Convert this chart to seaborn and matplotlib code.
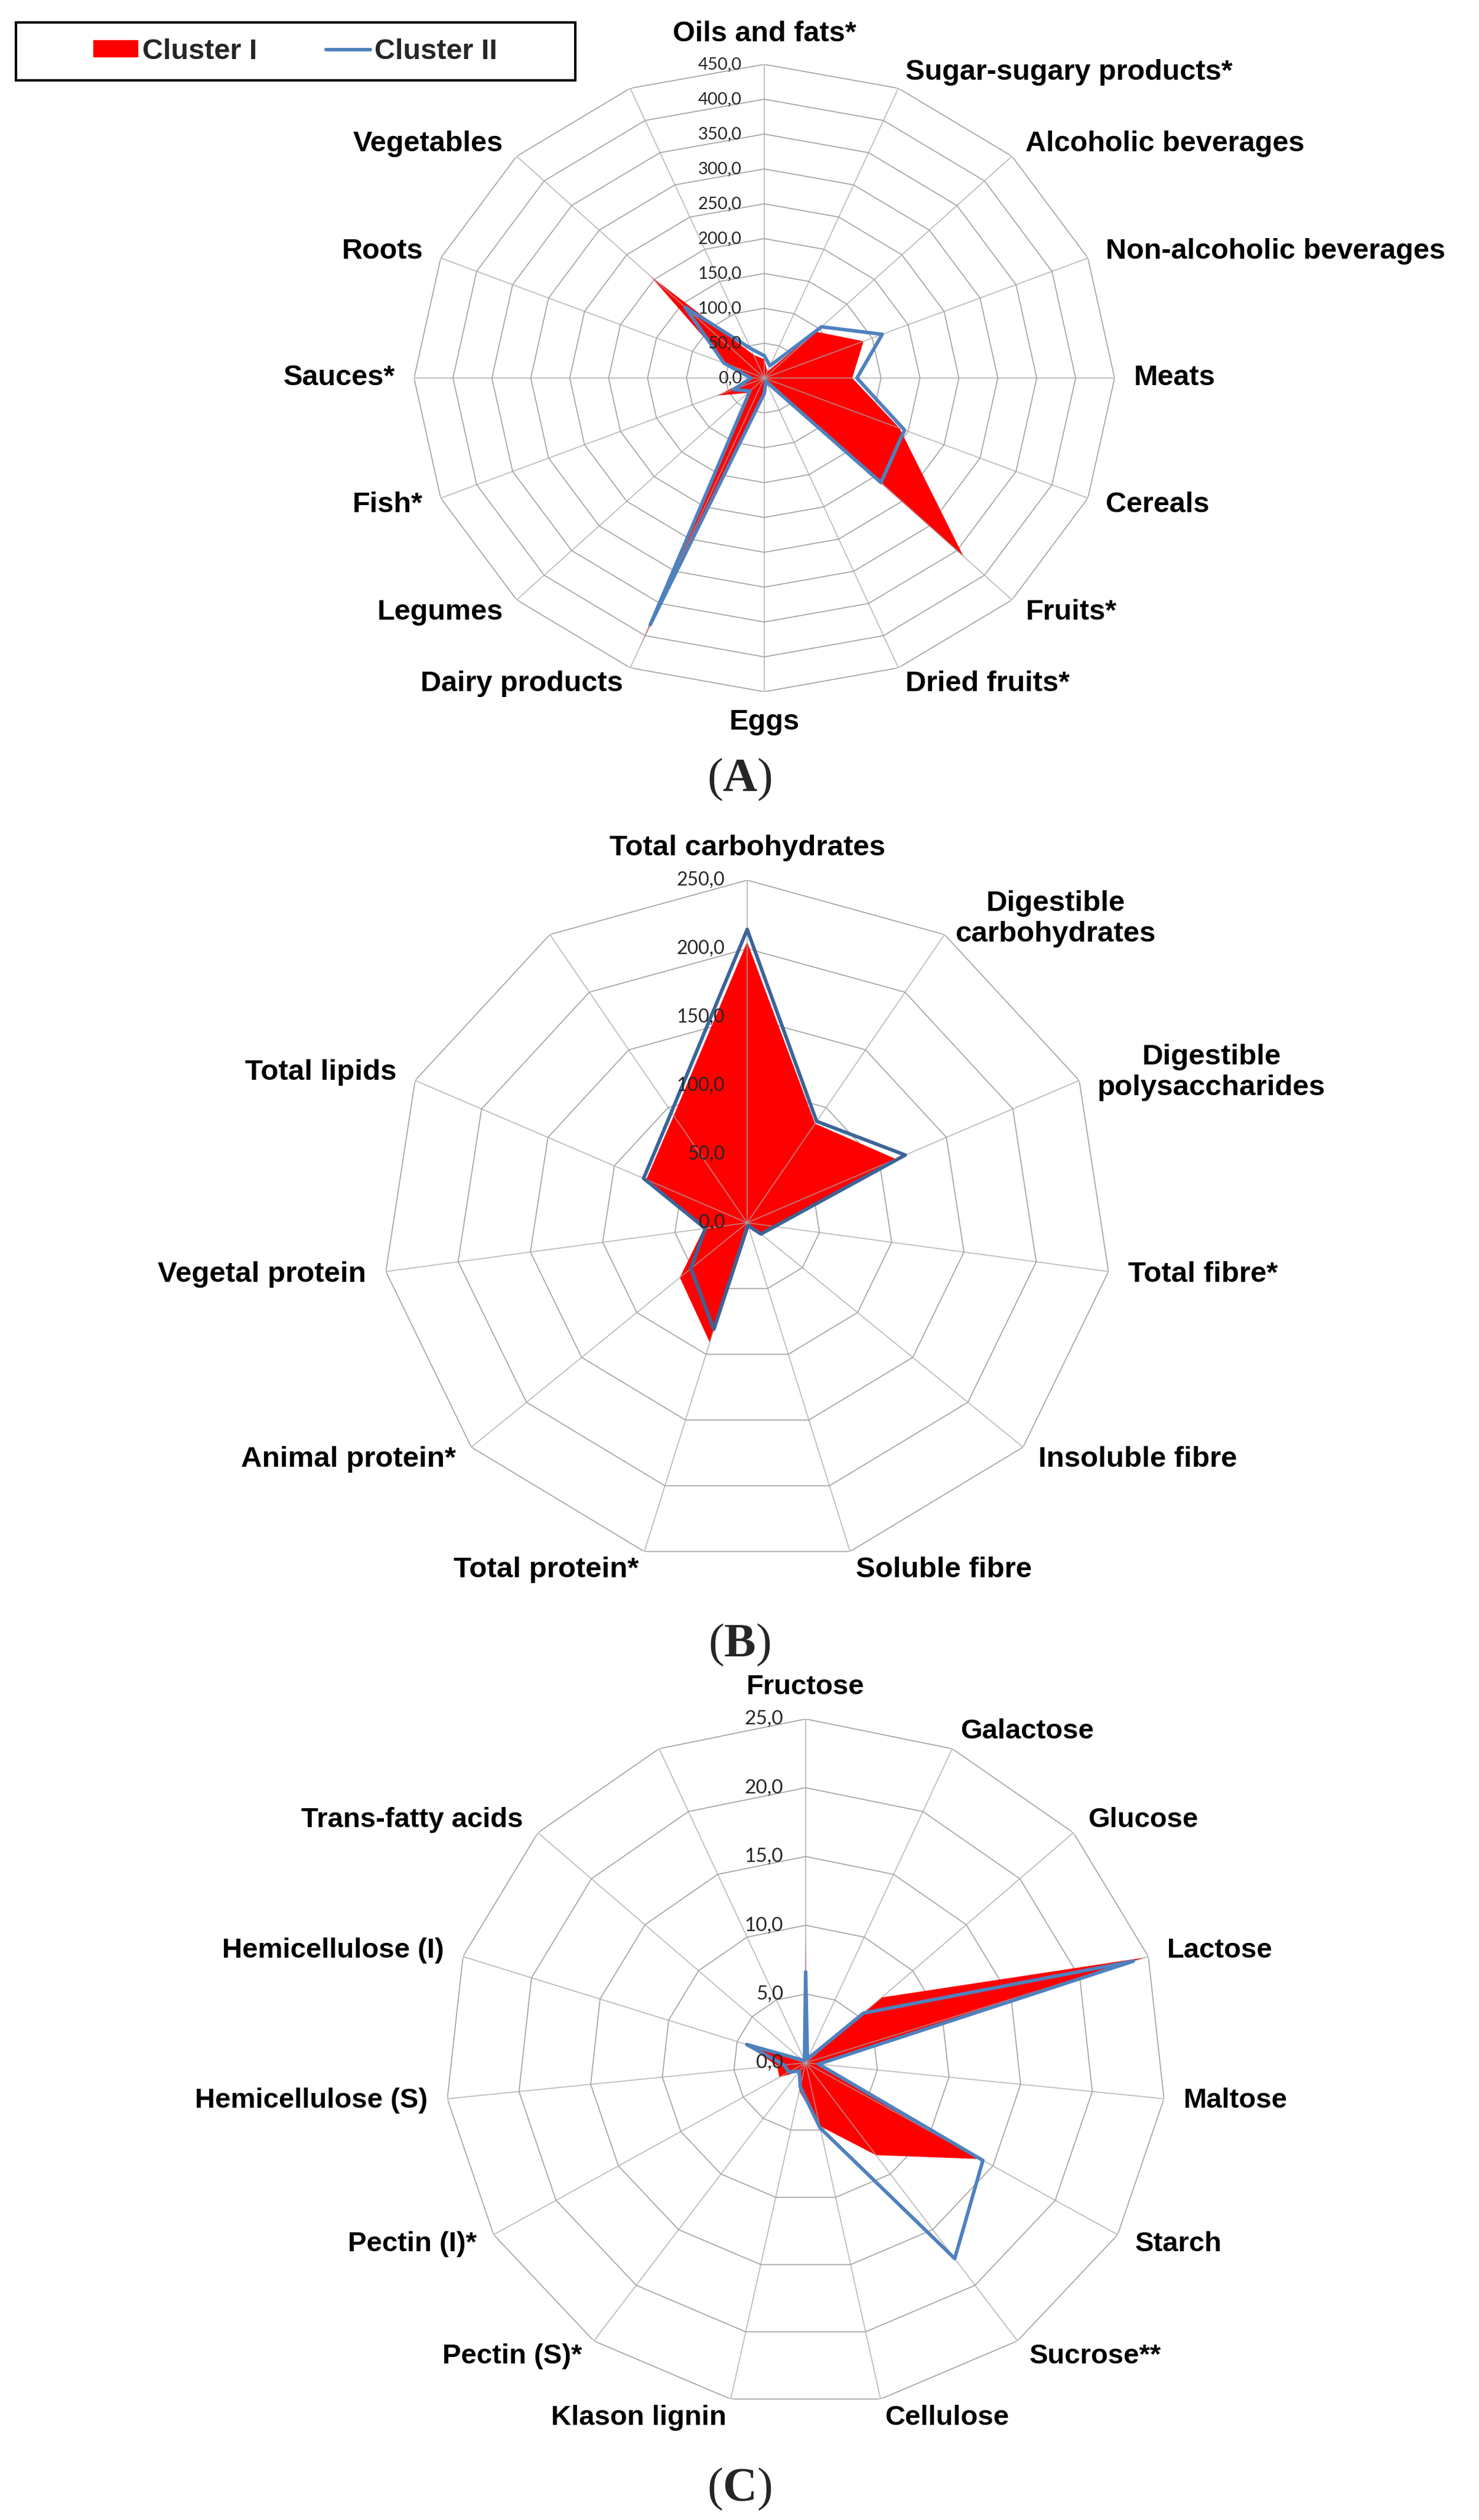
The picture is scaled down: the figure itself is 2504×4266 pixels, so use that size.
import numpy as np
import pandas as pd
import matplotlib
matplotlib.use('Agg')
import matplotlib.pyplot as plt
import matplotlib.patches as mpatches
from matplotlib.lines import Line2D
import seaborn as sns

# ---- data ----
# (A) food groups, g/day
foods = ['Oils and fats*', 'Sugar-sugary products*', 'Alcoholic beverages',
         'Non-alcoholic beverages', 'Meats', 'Cereals', 'Fruits*', 'Dried fruits*',
         'Eggs', 'Dairy products', 'Legumes', 'Fish*', 'Sauces*', 'Roots',
         'Vegetables', '']
foods_c1 = [27, 10, 94, 138, 113, 188, 362, 5, 20, 420, 30, 66, 15, 51, 207, 36]
foods_c2 = [32, 19, 104, 164, 119, 195, 212, 5, 22, 383, 26, 43, 17, 56, 144, 46]
foods_ticks = [0, 50, 100, 150, 200, 250, 300, 350, 400, 450]

# (B) macronutrients
macro = ['Total carbohydrates', 'Digestible\ncarbohydrates', 'Digestible\npolysaccharides',
         'Total fibre*', 'Insoluble fibre', 'Soluble fibre', 'Total protein*',
         'Animal protein*', 'Vegetal protein', 'Total lipids', '']
macro_c1 = [205, 86, 112, 20, 13, 2, 91, 61, 30, 76, 93]
macro_c2 = [214, 88, 119, 19, 12.5, 2, 81, 51, 29, 78, 96]
macro_ticks = [0, 50, 100, 150, 200, 250]

# (C) carbohydrate fractions
carbs = ['Fructose', 'Galactose', 'Glucose', 'Lactose', 'Maltose', 'Starch',
         'Sucrose**', 'Cellulose', 'Klason lignin', 'Pectin (S)*', 'Pectin (I)*',
         'Hemicellulose (S)', 'Hemicellulose (I)', 'Trans-fatty acids', '']
carbs_c1 = [9.4, 0.3, 7.1, 24.8, 0.8, 14.0, 8.3, 4.7, 2.1, 0.8, 2.1, 2.0, 4.4, 0.3, 0.2]
carbs_c2 = [6.6, 0.3, 5.4, 23.9, 0.9, 14.2, 17.6, 4.85, 1.8, 0.75, 1.35, 1.5, 4.3, 0.3, 0.2]
carbs_ticks = [0, 5, 10, 15, 20, 25]

sns.set_theme(style='white')
plt.rcParams['font.family'] = ['Liberation Sans', 'DejaVu Sans']
plt.rcParams['mathtext.fontset'] = 'custom'
plt.rcParams['mathtext.rm'] = 'Liberation Serif'
plt.rcParams['mathtext.bf'] = 'Liberation Serif:bold'

W, H = 2504, 4266
fig = plt.figure(figsize=(W / 100, H / 100), dpi=100)
fig.patch.set_facecolor('white')

RED = '#FF0000'
GRID = '#A6A6A6'


def radar(cx, cy, rh, rv, cats, c1, c2, ticks, blue, lab_fs, tick_fs):
    # polar axes stretched into an ellipse like the Excel chart
    ax = fig.add_axes([(cx - rh) / W, 1 - (cy + rv) / H, 2 * rh / W, 2 * rv / H],
                      projection='polar')
    ax.set_aspect('auto')
    ax.set_theta_zero_location('N')
    ax.set_theta_direction(-1)
    rmax = ticks[-1]
    n = len(cats)
    ang = np.arange(n) * 2 * np.pi / n
    ang_c = np.append(ang, 2 * np.pi)

    # polygon rings and spokes
    for t in ticks[1:]:
        ax.plot(ang_c, [t] * (n + 1), color=GRID, lw=1.3, zorder=1)
    for a in ang:
        ax.plot([a, a], [0, rmax], color=GRID, lw=1.3, alpha=0.75, zorder=3)

    # cluster I: filled area, cluster II: line
    ax.fill(ang_c, list(c1) + [c1[0]], color=RED, lw=0, zorder=2)
    df = pd.DataFrame({'theta': ang_c, 'value': list(c2) + [c2[0]]})
    sns.lineplot(data=df, x='theta', y='value', sort=False, color=blue,
                 linewidth=4.3, ax=ax, zorder=4)
    ax.set_xlabel('')
    ax.set_ylabel('')

    # radial tick labels
    for t in ticks:
        ax.annotate(f'{t:.1f}'.replace('.', ','), xy=(0, t), xytext=(-38, 0),
                    textcoords='offset pixels', ha='right', va='center',
                    fontsize=tick_fs, family='Lato', color='#262626', zorder=6,
                    annotation_clip=False)

    # category labels
    for a, cat in zip(ang, cats):
        s, c = np.sin(a), np.cos(a)
        if s > 0.05:
            ha, va = 'left', 'center'
        elif s < -0.05:
            ha, va = 'right', 'center'
        else:
            ha, va = 'center', ('bottom' if c > 0 else 'top')
        ax.text(a, rmax * 1.055, cat, ha=ha, va=va, fontsize=lab_fs,
                fontweight='bold', multialignment='center', color='black',
                clip_on=False)

    ax.set_ylim(0, rmax)
    ax.grid(False)
    ax.set_xticks([])
    ax.set_yticks([])
    ax.spines['polar'].set_visible(False)
    ax.patch.set_alpha(0)
    return ax


radar(1294, 640, 593, 531, foods, foods_c1, foods_c2, foods_ticks, '#4F81BD', 35, 21)
radar(1265, 2070, 618, 580, macro, macro_c1, macro_c2, macro_ticks, '#3C6497', 35.5, 23)
radar(1364, 3492, 610, 582, carbs, carbs_c1, carbs_c2, carbs_ticks, '#4F81BD', 34, 24)

# panel letters
for letter, y in [('A', 1320), ('B', 2785), ('C', 4214)]:
    fig.text(0.5, 1 - y / H, '($\\mathbf{' + letter + '}$)', ha='center', va='center',
             fontsize=58, family='Liberation Serif')

# legend box in the top-left corner
fig.add_artist(mpatches.Rectangle((27 / W, 1 - 136 / H), 947 / W, 98 / H,
                                  transform=fig.transFigure, fill=False,
                                  edgecolor='black', lw=3, zorder=10))
handles = [mpatches.Patch(color=RED, label='Cluster I'),
           Line2D([], [], color='#4F81BD', lw=4.3, label='Cluster II')]
fig.legend(handles=handles, loc='center', bbox_to_anchor=(500 / W, 1 - 87 / H),
           ncol=2, frameon=False, handlelength=1.55, handleheight=0.5,
           handletextpad=0.15, columnspacing=2.4,
           prop={'family': 'Liberation Sans', 'weight': 'bold', 'size': 35})

fig.savefig('out.png', dpi=100, facecolor='white')
